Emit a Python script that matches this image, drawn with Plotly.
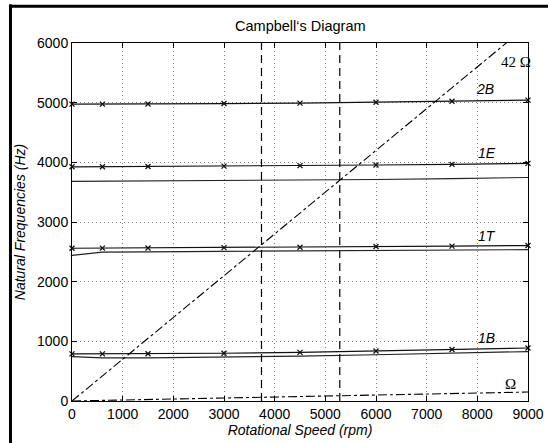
import plotly.graph_objects as go

# ---------------- data ----------------
rpm = [0, 600, 1500, 3000, 4500, 6000, 7500, 9000]

mode_2B_upper = [4975, 4975, 4978, 4985, 4992, 5008, 5025, 5042]
mode_1E_upper = [3925, 3927, 3930, 3936, 3945, 3955, 3966, 3983]
mode_1E_lower = [3682, 3684, 3687, 3692, 3698, 3712, 3728, 3746]
mode_1T_upper = [2560, 2562, 2565, 2570, 2578, 2588, 2596, 2605]
mode_1T_lower = [2440, 2495, 2500, 2505, 2512, 2520, 2528, 2537]
mode_1B_upper = [790, 790, 792, 800, 815, 838, 862, 888]
mode_1B_lower = [745, 722, 722, 732, 752, 775, 800, 828]

excitation_rpm = [0, 9000]
omega_1x_hz = [0, 150]
omega_42x_hz = [0, 6300]

crossing_rpm = [3740, 5285]
freq_range = [0, 6000]

mode_labels = ["2B", "1E", "1T", "1B"]
mode_label_x = [8160, 8190, 8190, 8190]
mode_label_y = [5225, 4150, 2770, 1050]

order_labels = ["42 Ω", "Ω"]
order_label_x = [8760, 8660]
order_label_y = [5690, 285]

x_ticks = [0, 1000, 2000, 3000, 4000, 5000, 6000, 7000, 8000, 9000]
y_ticks = [0, 1000, 2000, 3000, 4000, 5000, 6000]

# ---------------- figure ----------------
fig = go.Figure()
LINE_COL = "#111111"

for ys in [mode_2B_upper, mode_1E_upper, mode_1T_upper, mode_1B_upper]:
    fig.add_trace(go.Scatter(
        x=rpm, y=ys, mode="lines+markers",
        line=dict(color=LINE_COL, width=1.2),
        marker=dict(symbol="x-thin", size=5, color=LINE_COL,
                    line=dict(color=LINE_COL, width=1.3)),
        showlegend=False, cliponaxis=False))

for ys in [mode_1E_lower, mode_1T_lower, mode_1B_lower]:
    fig.add_trace(go.Scatter(
        x=rpm, y=ys, mode="lines",
        line=dict(color="#222222", width=1.2),
        showlegend=False))

fig.add_trace(go.Scatter(x=excitation_rpm, y=omega_42x_hz, mode="lines",
                         line=dict(color="black", width=1.1, dash="dashdot"),
                         showlegend=False))
fig.add_trace(go.Scatter(x=excitation_rpm, y=omega_1x_hz, mode="lines",
                         line=dict(color="black", width=1.1, dash="dashdot"),
                         showlegend=False))

for xv in crossing_rpm:
    fig.add_trace(go.Scatter(x=[xv, xv], y=freq_range, mode="lines",
                             line=dict(color="black", width=1.2, dash="8px,5px"),
                             showlegend=False))

for t, xx, yy in zip(mode_labels, mode_label_x, mode_label_y):
    fig.add_annotation(x=xx, y=yy, text=t, showarrow=False,
                       font=dict(family="Liberation Sans", size=14, color="black", style="italic"))

for t, xx, yy in zip(order_labels, order_label_x, order_label_y):
    fig.add_annotation(x=xx, y=yy, text=t, showarrow=False,
                       font=dict(family="Liberation Serif", size=15, color="black"))

# outer figure frame (top and left edges visible)
fig.add_shape(type="line", xref="paper", yref="paper",
              x0=-0.1349, x1=-0.1349, y0=-0.13, y1=1.108,
              line=dict(color="black", width=3))
fig.add_shape(type="line", xref="paper", yref="paper",
              x0=-0.1349, x1=1.06, y0=1.1025, y1=1.1025,
              line=dict(color="black", width=3))

axis_common = dict(
    showline=True, linecolor="black", linewidth=1, mirror="ticks",
    ticks="inside", ticklen=5, tickcolor="black",
    showgrid=True, gridcolor="#8a8a8a", griddash="1px,3px", gridwidth=1,
    zeroline=False, automargin=False,
    tickfont=dict(family="Liberation Sans", size=14, color="black"),
)

fig.update_xaxes(range=[0, 9000], tickvals=x_ticks,
                 title=dict(text="Rotational Speed (rpm)", standoff=0,
                            font=dict(family="Liberation Sans", size=14, color="black", style="italic")),
                 **axis_common)
fig.update_yaxes(range=[0, 6000], tickvals=y_ticks,
                 title=dict(text="Natural Frequencies (Hz)", standoff=8,
                            font=dict(family="Liberation Sans", size=14, color="black", style="italic")),
                 **axis_common)

fig.update_layout(
    width=548, height=443,
    margin=dict(l=72, r=20, t=43, b=42, autoexpand=False),
    paper_bgcolor="white", plot_bgcolor="white",
    title=dict(text="Campbell‘s Diagram", x=0.548, xanchor="center",
               y=1 - 26 / 443, yanchor="middle", yref="container",
               font=dict(family="Liberation Sans", size=14.5, color="black")),
)

fig.write_html("out.html", config={"displayModeBar": False},
               post_script="document.body.style.margin='0';document.body.style.overflow='hidden';")
